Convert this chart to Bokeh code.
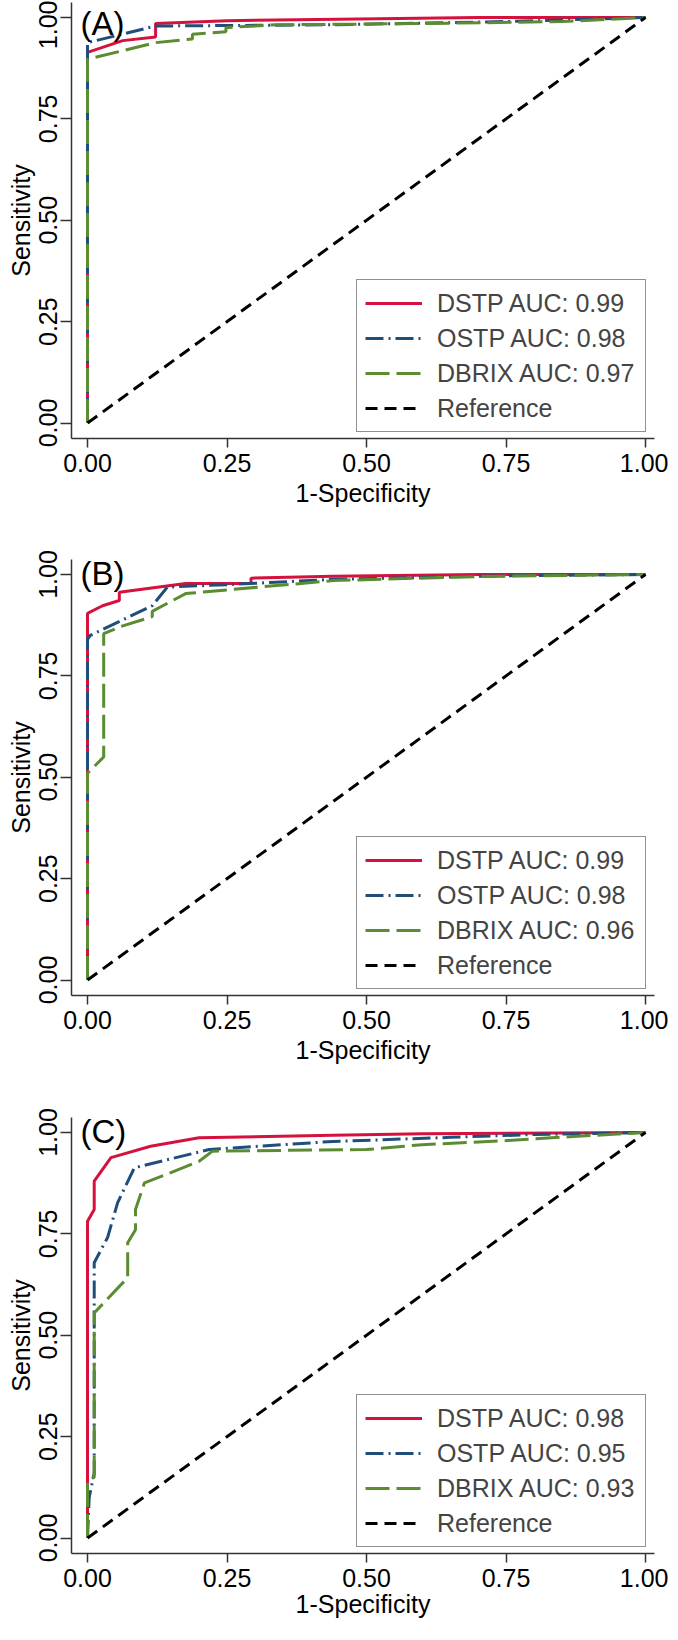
from bokeh.plotting import figure
from bokeh.models import Legend, LegendItem, Label, FixedTicker, CustomJSTickFormatter
from bokeh.layouts import column
from bokeh.embed import file_html
from bokeh.resources import INLINE

# ---------------- data ----------------
tick_values = [0, 0.25, 0.5, 0.75, 1]
tick_labels = ["0.00", "0.25", "0.50", "0.75", "1.00"]

series_names = ["DSTP", "OSTP", "DBRIX"]
panel_tags = ["(A)", "(B)", "(C)"]
auc_a = [0.99, 0.98, 0.97]
auc_b = [0.99, 0.98, 0.96]
auc_c = [0.98, 0.95, 0.93]

# Panel A
dstp_a_fpr = [0, 0, 0.063, 0.122, 0.122, 0.25, 0.45, 0.7, 1.0]
dstp_a_tpr = [0, 0.914, 0.943, 0.952, 0.985, 0.992, 0.996, 1.0, 1.0]
ostp_a_fpr = [0, 0, 0.122, 0.44, 0.75, 1.0]
ostp_a_tpr = [0, 0.938, 0.979, 0.982, 0.99, 1.0]
dbrix_a_fpr = [0, 0, 0.122, 0.188, 0.188, 0.248, 0.248, 0.337, 0.6, 0.85, 1.0]
dbrix_a_tpr = [0, 0.897, 0.938, 0.947, 0.959, 0.965, 0.975, 0.982, 0.985, 0.99, 1.0]

# Panel B
dstp_b_fpr = [0, 0, 0.027, 0.057, 0.057, 0.176, 0.293, 0.293, 0.44, 0.7, 1.0]
dstp_b_tpr = [0, 0.904, 0.923, 0.936, 0.956, 0.978, 0.978, 0.991, 0.996, 1.0, 1.0]
ostp_b_fpr = [0, 0, 0.005, 0.116, 0.143, 0.25, 0.44, 0.75, 1.0]
ostp_b_tpr = [0, 0.84, 0.85, 0.923, 0.969, 0.975, 0.988, 0.997, 1.0]
dbrix_b_fpr = [0, 0, 0.029, 0.029, 0.06, 0.116, 0.116, 0.176, 0.44, 0.7, 1.0]
dbrix_b_tpr = [0, 0.51, 0.55, 0.854, 0.872, 0.896, 0.909, 0.953, 0.985, 0.995, 1.0]

# Panel C
dstp_c_fpr = [0, 0, 0.012, 0.012, 0.042, 0.113, 0.2, 0.44, 0.6, 1.0]
dstp_c_tpr = [0, 0.781, 0.81, 0.88, 0.938, 0.966, 0.987, 0.993, 0.997, 1.0]
ostp_c_fpr = [0, 0.003, 0.012, 0.012, 0.036, 0.054, 0.084, 0.218, 0.44, 0.65, 0.8, 1.0]
ostp_c_tpr = [0, 0.10, 0.16, 0.679, 0.741, 0.827, 0.913, 0.958, 0.978, 0.988, 0.995, 1.0]
dbrix_c_fpr = [0, 0, 0.012, 0.012, 0.072, 0.072, 0.086, 0.086, 0.102, 0.14, 0.2, 0.224, 0.5, 0.6, 0.75, 0.87, 1.0]
dbrix_c_tpr = [0, 0.14, 0.15, 0.555, 0.642, 0.728, 0.760, 0.81, 0.876, 0.896, 0.929, 0.954, 0.958, 0.97, 0.98, 0.99, 1.0]

ref_x = [0, 1]
ref_y = [0, 1]

# ---------------- style ----------------
FONT = "Liberation Sans"
COLORS = ["#D5123D", "#1F4E7A", "#5B8C32"]
DASHES = ["solid", "18 5 2 5", "24 7"]
AXIS_COLOR = "#333333"
FS = "25px"


def make_panel(tag, curves, aucs, border_top, border_bottom, tag_y, xlab_standoff):
    p = figure(frame_width=583, frame_height=436,
               x_range=(-0.0287, 1.0161), y_range=(-0.0382, 1.037),
               output_backend="svg", toolbar_location=None, title=None,
               min_border_left=71, min_border_right=14,
               min_border_top=border_top, min_border_bottom=border_bottom)
    p.grid.visible = False
    p.outline_line_color = None
    p.background_fill_color = "white"
    p.border_fill_color = "white"

    items = []
    for (fx, ty), name, auc, col, dash in zip(curves, series_names, aucs, COLORS, DASHES):
        r = p.line(fx, ty, line_color=col, line_width=3, line_dash=dash)
        items.append(LegendItem(label=f"{name} AUC: {auc:.2f}", renderers=[r]))
    rr = p.line(ref_x, ref_y, line_color="black", line_width=3, line_dash="12 7")
    items.append(LegendItem(label="Reference", renderers=[rr]))

    legend = Legend(items=items, location=(285, 6),
                    label_text_font=FONT, label_text_font_size=FS,
                    glyph_width=57, glyph_height=30, label_height=30,
                    label_width=200, spacing=5, padding=8, margin=0,
                    label_standoff=15, border_line_color="#222222",
                    border_line_width=1.5, background_fill_color="white")
    p.add_layout(legend)

    fmt = CustomJSTickFormatter(args=dict(labels=tick_labels, vals=tick_values),
                                code="const i = vals.indexOf(tick); return i >= 0 ? labels[i] : '';")
    for ax in (p.xaxis[0], p.yaxis[0]):
        ax.ticker = FixedTicker(ticks=tick_values)
        ax.formatter = fmt
        ax.axis_line_color = AXIS_COLOR
        ax.axis_line_width = 1.5
        ax.major_tick_line_color = AXIS_COLOR
        ax.major_tick_line_width = 1.5
        ax.major_tick_in = 0
        ax.minor_tick_in = 0
        ax.minor_tick_out = 0
        ax.major_label_text_font = FONT
        ax.major_label_text_font_size = FS
        ax.major_label_text_color = "black"
        ax.axis_label_text_font = FONT
        ax.axis_label_text_font_size = FS
        ax.axis_label_text_font_style = "normal"
        ax.axis_label_text_color = "black"

    p.xaxis.axis_label = "1-Specificity"
    p.xaxis.major_tick_out = 9
    p.xaxis.major_label_standoff = 6
    p.xaxis.axis_label_standoff = xlab_standoff

    p.yaxis.axis_label = "Sensitivity"
    p.yaxis.major_tick_out = 11
    p.yaxis.major_label_orientation = "vertical"
    p.yaxis.major_label_standoff = 3
    p.yaxis.axis_label_standoff = 2

    p.add_layout(Label(x=-0.0125, y=tag_y, text=tag, text_font=FONT,
                       text_font_size="33px", text_color="black",
                       text_baseline="alphabetic"))
    return p


pa = make_panel(panel_tags[0],
                [(dstp_a_fpr, dstp_a_tpr), (ostp_a_fpr, ostp_a_tpr), (dbrix_a_fpr, dbrix_a_tpr)],
                auc_a, 2, 90, 0.986, 4)
pb = make_panel(panel_tags[1],
                [(dstp_b_fpr, dstp_b_tpr), (ostp_b_fpr, ostp_b_tpr), (dbrix_b_fpr, dbrix_b_tpr)],
                auc_b, 31, 90, 1.003, 4)
pc = make_panel(panel_tags[2],
                [(dstp_c_fpr, dstp_c_tpr), (ostp_c_fpr, ostp_c_tpr), (dbrix_c_fpr, dbrix_c_tpr)],
                auc_c, 32, 70, 1.003, 0)

layout = column(pa, pb, pc, spacing=0)
open("out.html", "w").write(file_html(layout, INLINE))
